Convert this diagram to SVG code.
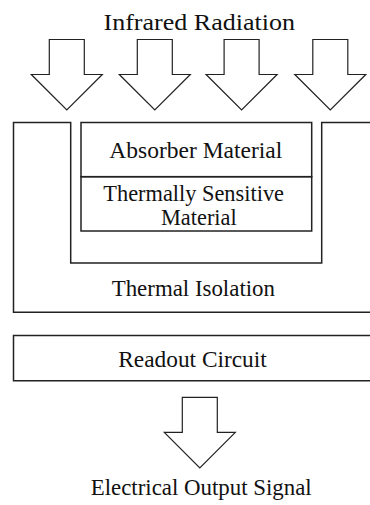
<svg xmlns="http://www.w3.org/2000/svg" xmlns:xlink="http://www.w3.org/1999/xlink" width="370" height="505" viewBox="0 0 370 505">
  <style>
    .box { fill: none; stroke: #222; stroke-width: 1.5; }
    .arrow { fill: #fff; stroke: #222; stroke-width: 1.2; stroke-linejoin: miter; }
    .lbl { font-family: 'Liberation Serif', 'DejaVu Serif', 'Times New Roman', Times, serif; font-size: 23px; fill: #111; }
  </style>
  <defs>
    <path id="blockArrow" class="arrow" d="M-17.5,0 H17.5 V35 H35.5 L0,70.5 L-35.5,35 H-17.5 Z"/>
  </defs>

  <g id="title-infrared">
    <text class="lbl" font-family="Liberation Serif, DejaVu Serif, serif" x="103.5" y="29.5" font-size="25.5" textLength="191.5" lengthAdjust="spacingAndGlyphs">Infrared Radiation</text>
  </g>

  <g id="connectors">
    <use xlink:href="#blockArrow" transform="translate(66.8,39.5)"/>
    <use xlink:href="#blockArrow" transform="translate(154.8,39.5)"/>
    <use xlink:href="#blockArrow" transform="translate(241.6,39.5)"/>
    <use xlink:href="#blockArrow" transform="translate(330.3,39.5)"/>
    <use xlink:href="#blockArrow" transform="translate(199.8,397.3)"/>
  </g>

  <g id="thermal-isolation">
    <path class="box" d="M372,122.5 H321.7 V263 H70.7 V122.5 H13.5 V312.3 H372"/>
    <text class="lbl" font-family="Liberation Serif, DejaVu Serif, serif" x="111.7" y="296" textLength="163.3" lengthAdjust="spacingAndGlyphs">Thermal Isolation</text>
  </g>

  <g id="absorber-material">
    <rect class="box" x="81" y="122.5" width="230.7" height="54.2"/>
    <text class="lbl" font-family="Liberation Serif, DejaVu Serif, serif" x="109.3" y="158.3" textLength="173" lengthAdjust="spacingAndGlyphs">Absorber Material</text>
  </g>

  <g id="thermally-sensitive-material">
    <rect class="box" x="81" y="176.7" width="230.7" height="54.3"/>
    <text class="lbl" font-family="Liberation Serif, DejaVu Serif, serif" x="103.3" y="201" textLength="180.7" lengthAdjust="spacingAndGlyphs">Thermally Sensitive</text>
    <text class="lbl" font-family="Liberation Serif, DejaVu Serif, serif" x="161" y="225" textLength="75.7" lengthAdjust="spacingAndGlyphs">Material</text>
  </g>

  <g id="readout-circuit">
    <path class="box" d="M372,335.5 H13.5 V380.8 H372"/>
    <text class="lbl" font-family="Liberation Serif, DejaVu Serif, serif" x="118.3" y="366.7" textLength="148.4" lengthAdjust="spacingAndGlyphs">Readout Circuit</text>
  </g>

  <g id="electrical-output">
    <text class="lbl" font-family="Liberation Serif, DejaVu Serif, serif" x="90.7" y="495" textLength="221" lengthAdjust="spacingAndGlyphs">Electrical Output Signal</text>
  </g>
</svg>
